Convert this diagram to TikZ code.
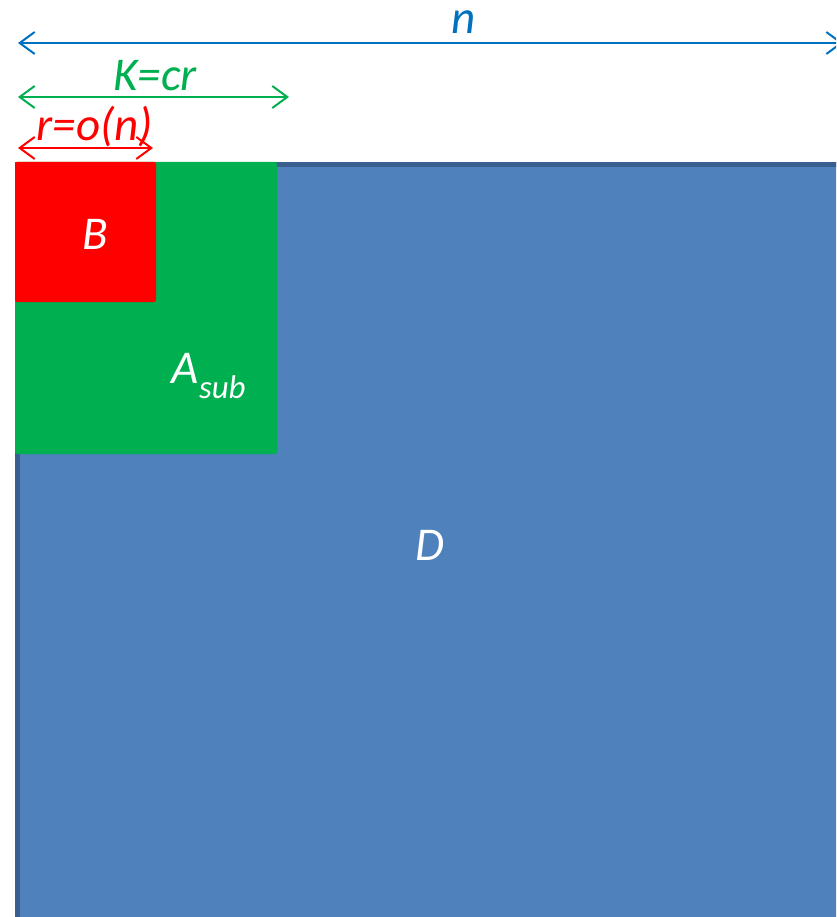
\documentclass[tikz,border=0pt]{standalone}
\usepackage{fontspec}
\setmainfont{Carlito}
\usetikzlibrary{arrows.meta}
\definecolor{dblue}{HTML}{4F81BD}
\definecolor{dbord}{HTML}{3A5F8F}
\definecolor{agreen}{HTML}{00B050}
\definecolor{nblue}{HTML}{0070C0}
\begin{document}
\begin{tikzpicture}[x=1pt,y=-1pt,
  dim/.style={line width=2pt,{Straight Barb[length=15pt,width=22pt,line width=2pt]}-{Straight Barb[length=15pt,width=22pt,line width=2pt]}},
  lbl/.style={font=\fontsize{47}{47}\selectfont\itshape,inner sep=0pt}]
\useasboundingbox (0,0) rectangle (836,917);
\clip (0,0) rectangle (836,917);
\fill[white] (0,0) rectangle (836,917);
% D region
\fill[dblue] (15,162) rectangle (850,930);
\fill[dbord] (15,162) rectangle (850,167);
\fill[dbord] (15,162) rectangle (20,930);
\node[lbl,white] (D) at (430,545) {D};
% A_sub
\fill[agreen,rounded corners=2pt] (15,162) rectangle (277,454);
\node[lbl,white] (A) at (209,376) {A\textsubscript{sub}};
% B
\fill[red,rounded corners=2pt] (15,162) rectangle (156,302);
\node[lbl,white] (B) at (95,234) {B};
% dimension arrows
\coordinate (nL) at (18,43);
\coordinate (nR) at (843,43);
\draw[dim,nblue] (nL) -- (nR);
\node[lbl,nblue,anchor=base] (nlab) at (464,34) {n};
\coordinate (kL) at (18,97);
\coordinate (kR) at (289,97);
\draw[dim,agreen] (kL) -- (kR);
\node[lbl,agreen] (klab) at (155,76) {K=cr};
\coordinate (rL) at (18,148);
\coordinate (rR) at (153,148);
\draw[dim,red] (rL) -- (rR);
\node[lbl,red] (rlab) at (95,127) {r=o(n)};
\end{tikzpicture}
\end{document}
